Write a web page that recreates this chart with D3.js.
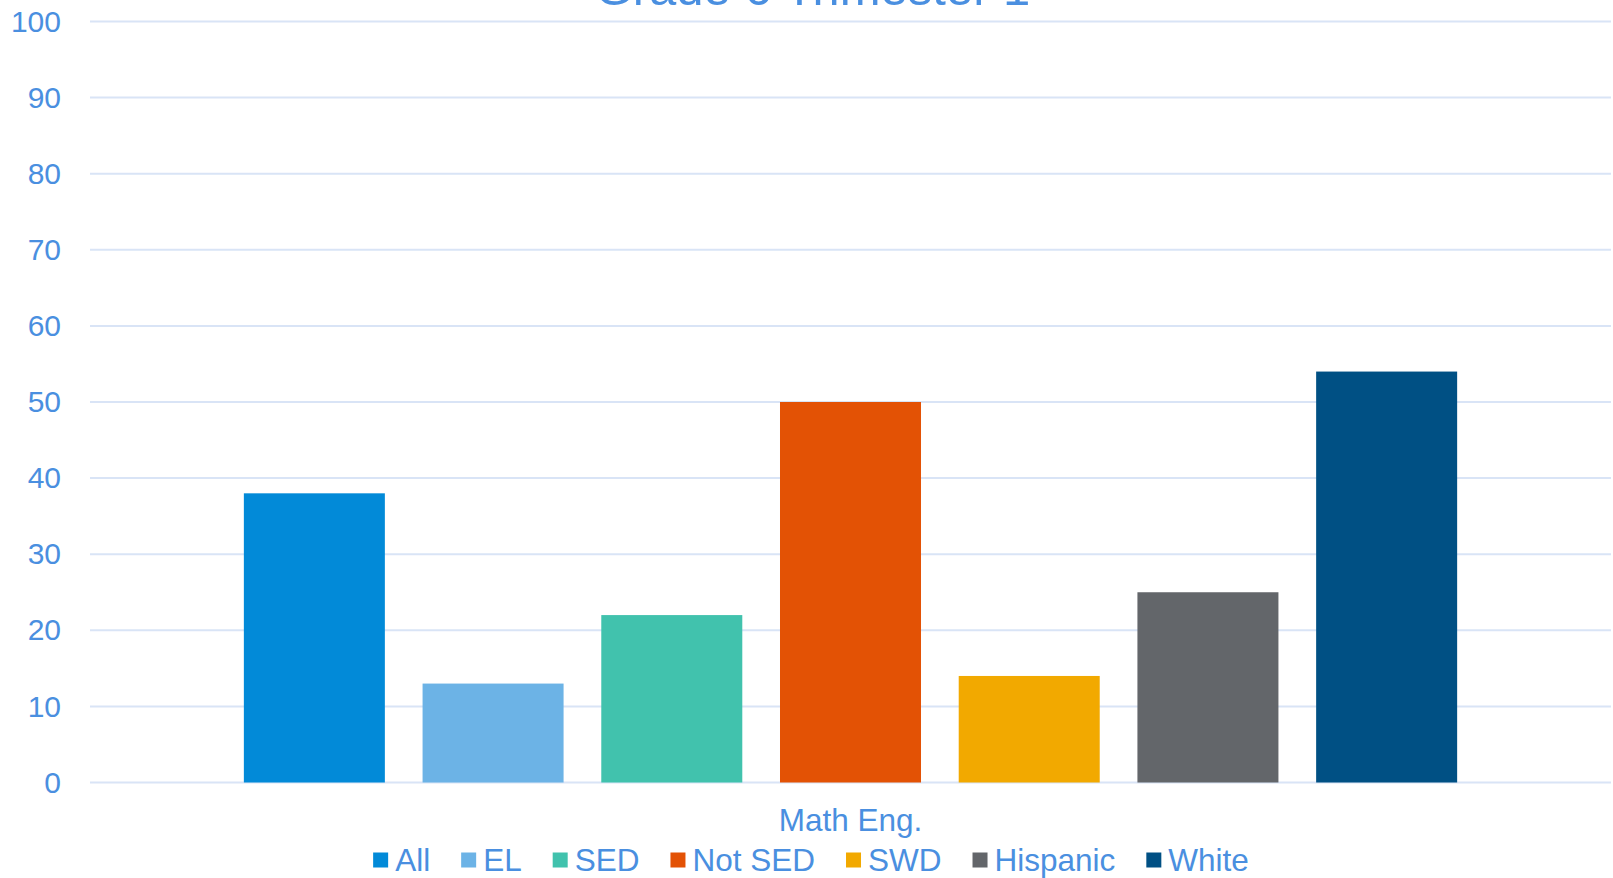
<!DOCTYPE html>
<html>
<head>
<meta charset="utf-8">
<script src="https://cdn.jsdelivr.net/npm/d3@7"></script>
<style>
  body { margin: 0; background: #fff; }
  svg { display: block; }
</style>
</head>
<body>
<div class="chart"></div>
<script>
// ---- data ----
var title = "Grade 6 Trimester 1";
var categories = ["Math Eng."];
var seriesNames = ["All", "EL", "SED", "Not SED", "SWD", "Hispanic", "White"];
var seriesValues = [38, 13, 22, 50, 14, 25, 54];
var seriesColors = ["#028ad8", "#6cb3e6", "#41c2ad", "#e35205", "#f2a900", "#63666a", "#005084"];
var yTicks = [0, 10, 20, 30, 40, 50, 60, 70, 80, 90, 100];

var width = 1613, height = 878;
var textColor = "#4a8fe0";
var fontFamily = "'Liberation Sans', Arial, sans-serif";

var svg = d3.select(".chart")
	.append("svg")
	.attr("width", width)
	.attr("height", height);

var x0 = d3.scaleBand()
	.domain(categories)
	.range([90, 1611])
	.paddingInner(0)
	.paddingOuter(0.108);

var x1 = d3.scaleBand()
	.domain(seriesNames)
	.range([0, x0.bandwidth()])
	.paddingInner(0.211)
	.paddingOuter(0.105);

var y = d3.scaleLinear()
	.domain([0, 100])
	.range([782.5, 21.5]);

// gridlines
svg.append("g")
	.selectAll("line")
	.data(yTicks)
	.enter().append("line")
	.attr("x1", 90)
	.attr("x2", 1611)
	.attr("y1", function(d) { return y(d); })
	.attr("y2", function(d) { return y(d); })
	.style("stroke", "#d9e4f6")
	.style("stroke-width", 2);

// y axis labels
var yAxis = d3.axisLeft(y).tickValues(yTicks).tickSize(0).tickPadding(0);
var yg = svg.append("g")
	.attr("transform", "translate(61,0)")
	.call(yAxis);
yg.select(".domain").remove();
yg.selectAll("text")
	.attr("fill", textColor)
	.attr("font-size", 30)
	.attr("font-family", fontFamily);

// bars
svg.append("g")
	.selectAll("g")
	.data(categories)
	.enter().append("g")
	.attr("transform", function(d) { return "translate(" + x0(d) + ",0)"; })
	.selectAll("rect")
	.data(seriesNames.map(function(s, i) { return { name: s, value: seriesValues[i], color: seriesColors[i] }; }))
	.enter().append("rect")
	.attr("x", function(d) { return x1(d.name); })
	.attr("y", function(d) { return y(d.value); })
	.attr("width", x1.bandwidth())
	.attr("height", function(d) { return y(0) - y(d.value); })
	.style("fill", function(d) { return d.color; });

// category label
svg.append("g")
	.selectAll("text")
	.data(categories)
	.enter().append("text")
	.attr("x", function(d) { return x0(d) + x0.bandwidth() / 2; })
	.attr("y", 831)
	.attr("text-anchor", "middle")
	.attr("fill", textColor)
	.attr("font-size", 31.5)
	.attr("font-family", fontFamily)
	.text(function(d) { return d; });

// title (partly off the top)
svg.append("text")
	.attr("x", width / 2 + 6)
	.attr("y", 5)
	.attr("text-anchor", "middle")
	.attr("fill", textColor)
	.attr("font-size", 49)
	.attr("font-family", fontFamily)
	.text(title);

// legend
var legend = svg.append("g");
var items = legend.selectAll("g")
	.data(seriesNames)
	.enter().append("g");

items.append("rect")
	.attr("width", 15)
	.attr("height", 15)
	.attr("y", -7.5)
	.style("fill", function(d, i) { return seriesColors[i]; });

items.append("text")
	.attr("x", 22)
	.attr("dy", ".35em")
	.attr("fill", textColor)
	.attr("font-size", 31.5)
	.attr("font-family", fontFamily)
	.text(function(d) { return d; });

var offset = 0;
items.each(function() {
	var w = 22 + d3.select(this).select("text").node().getComputedTextLength();
	d3.select(this).attr("transform", "translate(" + offset + ",0)");
	offset += w + 31;
});
var total = offset - 31;
legend.attr("transform", "translate(" + (811 - total / 2) + ",860)");
</script>
</body>
</html>
